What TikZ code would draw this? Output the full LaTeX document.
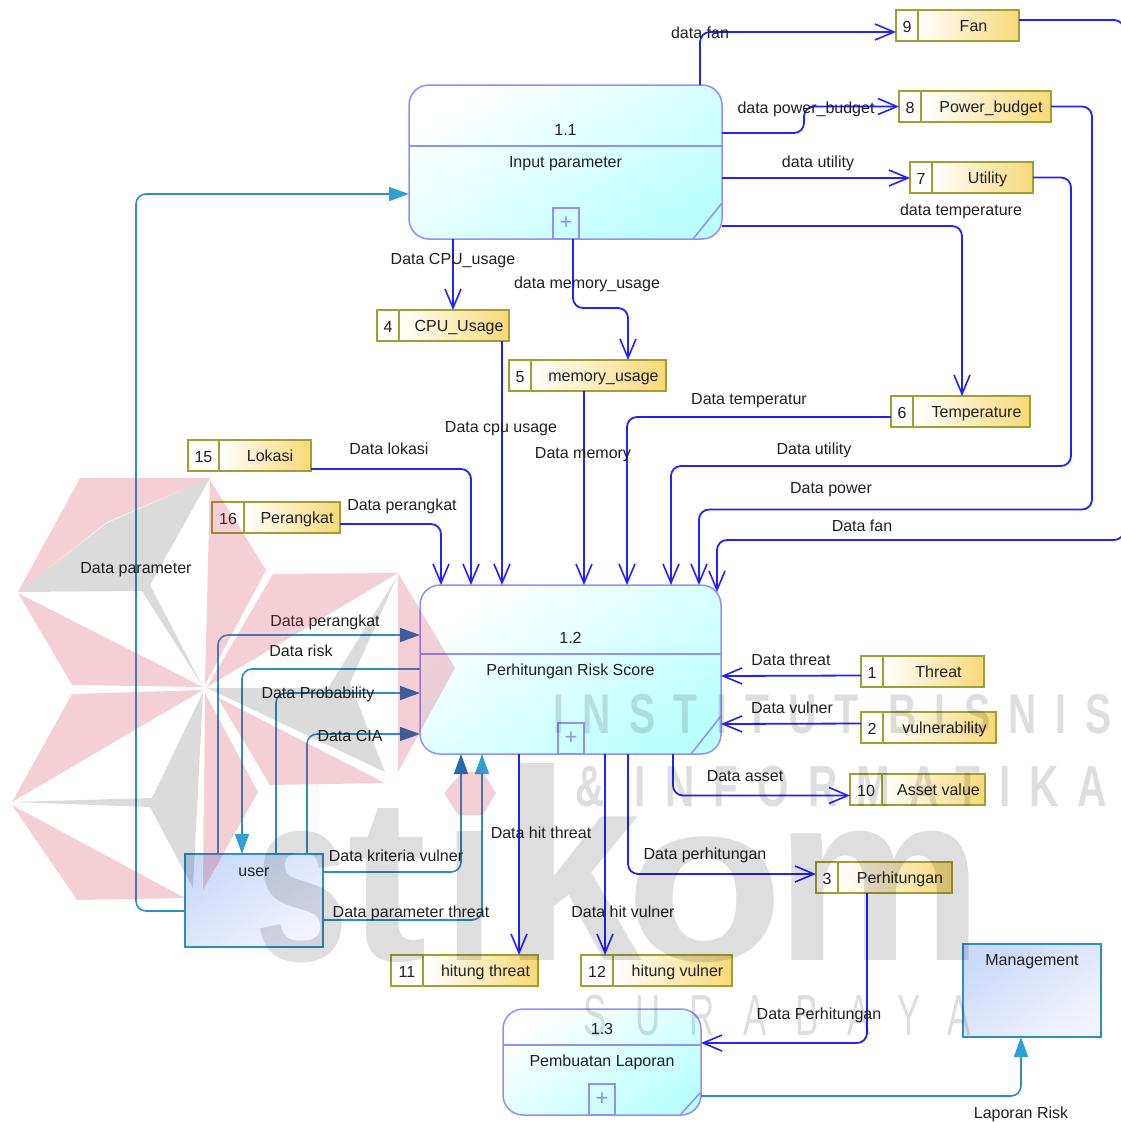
\documentclass[tikz,border=0pt]{standalone}
\usepackage{fontspec}
\setmainfont{Liberation Sans}
\newfontfamily\wmbold[FakeStretch=0.7,LetterSpace=33]{Liberation Sans Bold}
\newfontfamily\wmthin[FakeStretch=0.6,LetterSpace=50]{Liberation Sans}
\newfontfamily\wmlogo{Liberation Sans Bold}
\usetikzlibrary{arrows.meta}
\definecolor{flowblue}{HTML}{2222FF}
\definecolor{sysblue}{HTML}{2A8FC8}
\definecolor{tipdark}{HTML}{1F6FB0}
\definecolor{tiplight}{HTML}{2F9FD4}
\definecolor{procline}{HTML}{8F8FFF}
\definecolor{proccyan}{HTML}{BCFFFF}
\definecolor{storeline}{HTML}{A0A030}
\definecolor{storegold}{HTML}{F8D878}
\definecolor{exttop}{HTML}{CBDAF8}
\definecolor{extbottom}{HTML}{F3F3FF}
\definecolor{textdark}{HTML}{202020}

\begin{document}
\begin{tikzpicture}[
				x=1pt, y=-1pt,
				every node/.style={font=\fontsize{16}{16}\selectfont, text=textdark, inner sep=0pt, outer sep=0pt},
				flowtext/.style={text height=12.5pt, text depth=2.5pt},
				flow/.style={draw=flowblue, line width=1.8pt, rounded corners=10pt, -{Straight Barb[length=19pt,width=16pt,line width=1.6pt]}},
				sysflow/.style={draw=sysblue, line width=1.6pt, rounded corners=10pt, -{Triangle[length=20pt,width=14pt,color=#1,fill=#1]}},
				sysflow/.default=tipdark,
				process/.style={draw=procline, line width=1.5pt, rounded corners=20pt, anchor=north west, top color=white, bottom color=proccyan, shading angle=35},
				plusbox/.style={draw=procline, line width=1.2pt, anchor=south west, minimum width=26pt, minimum height=31pt, text=procline, font=\fontsize{22}{22}\selectfont},
				storenum/.style={draw=storeline, line width=1.5pt, anchor=north west, minimum height=31pt, fill=white, text height=13.5pt, text depth=0pt},
				storebox/.style={draw=storeline, line width=1.5pt, anchor=north west, minimum height=31pt, left color=white, right color=storegold, text height=12.5pt, text depth=0pt},
				external/.style={draw=sysblue, line width=1.5pt, anchor=north west, top color=exttop, bottom color=extbottom, shading angle=35},
				wmpink/.style={fill={rgb,255:red,200;green,16;blue,46}, fill opacity=0.2},
				wmgray/.style={fill=black, fill opacity=0.14},
				wmtext/.style={text=black, text opacity=0.13, anchor=base west}
				]
				
				\useasboundingbox (0,0) rectangle (1121,1122);
				
				\foreach \p/\xa/\ya/\w/\h/\yd/\xp/\dx/\dy/\id/\txt in {
					11/409/85/313/154/61/144/29/36/1.1/Input parameter,
					12/420/585/301/169/69/138/30/38/1.2/Perhitungan Risk Score,
					13/503/1009/198/106/36/86/21/23/1.3/Pembuatan Laporan}{
					\node[process, minimum width=\w pt, minimum height=\h pt] (proc\p) at (\xa,\ya) {};
					\draw[draw=procline, line width=1.5pt] ([yshift=-\yd pt]proc\p.north west) -- ([yshift=-\yd pt]proc\p.north east);
					\draw[draw=procline, line width=1.5pt] ([yshift=\dy pt]proc\p.south east) -- ([xshift=-\dx pt]proc\p.south east);
					\node[plusbox] (plus\p) at ([xshift=\xp pt]proc\p.south west) {+};
					\node[flowtext] (id\p) at ([yshift=16pt-\yd pt]proc\p.north) {\id};
					\node[flowtext] (name\p) at ([yshift=-16pt-\yd pt]proc\p.north) {\txt};
				}
				
				\foreach \n/\xa/\ya/\wa/\wb/\txt in {
					9/896/10/22/101/Fan,
					8/899/91/22/130/Power\_budget,
					7/910/162/22/101/Utility,
					4/377/310/22/110/CPU\_Usage,
					5/509/360/22/135/memory\_usage,
					6/891/396/22/117/Temperature,
					15/188/440/31/92/Lokasi,
					16/212/502/32/96/Perangkat,
					1/861/656/22/101/Threat,
					2/861/712/22/113/vulnerability,
					10/850/774/32/103/Asset value,
					3/816/862/22/114/Perhitungan,
					11/391/955/32/115/hitung threat,
					12/581/955/32/119/hitung vulner}{
					\node[storenum, minimum width=\wa pt] (num\n) at (\xa,\ya) {\n};
					\node[storebox, minimum width=\wb pt] (store\n) at (num\n.north east) {\hspace*{10pt}\txt};
				}
				
				\node[external, minimum width=138pt, minimum height=93pt] (user) at (185,854) {};
				\node[flowtext] (userlabel) at ([yshift=-17pt]user.north) {user};
				\node[external, minimum width=138pt, minimum height=93pt] (management) at (963,944) {};
				\node[flowtext] (managementlabel) at ([yshift=-16pt]management.north) {Management};
				
				\draw[flow] ([xshift=-22pt]proc11.north east) |- ([yshift=-6.5pt]num9.west);
				\draw[flow] ([yshift=-48pt]proc11.north east) -- ++(82,0) |- (num8.west);
				\draw[flow] ([yshift=-93pt]proc11.north east) -- ([yshift=-0.5pt]num7.west);
				\draw[flow] ([yshift=-141pt]proc11.north east) -| ([xshift=49pt]store6.north west);
				\draw[flow] ([xshift=44pt]proc11.south west) -- ([xshift=54pt]store4.north west);
				\draw[flow] ([xshift=164pt]proc11.south west) -- ++(0,69) -| ([xshift=97pt]store5.north west);
				\draw[flow] ([xshift=103pt]store4.south west) -- ([xshift=82pt]proc12.north west);
				\draw[flow] ([xshift=53pt]store5.south west) -- ([xshift=164pt]proc12.north west);
				\draw[flow] ([yshift=-5.5pt]num6.west) -| ([xshift=207pt]proc12.north west);
				\draw[flow] (store7.east) -- ++(38,0) -- ++(0,288.5) -| ([xshift=251pt]proc12.north west);
				\draw[flow] (store8.east) -- ++(41,0) -- ++(0,403) -| ([xshift=279pt]proc12.north west);
				\draw[flow] ([yshift=5.5pt]store9.east) -- ++(105,0) -- ++(0,520) -| ([xshift=297pt,yshift=-7pt]proc12.north west);
				\draw[flow] ([yshift=-13.5pt]store15.east) -| ([xshift=51pt]proc12.north west);
				\draw[flow] ([yshift=-6.5pt]store16.east) -| ([xshift=21pt]proc12.north west);
				\draw[flow] ([yshift=-4pt]num1.west) -- ([yshift=-91pt]proc12.north east);
				\draw[flow] ([yshift=4pt]num2.west) -- ([yshift=-139pt]proc12.north east);
				\draw[flow] ([xshift=253pt]proc12.south west) |- ([yshift=-6pt]num10.west);
				\draw[flow] ([xshift=208pt]proc12.south west) |- ([yshift=3.5pt]num3.west);
				\draw[flow] ([xshift=99pt]proc12.south west) -- ([xshift=96pt]store11.north west);
				\draw[flow] ([xshift=185pt]proc12.south west) -- ([xshift=24pt]num12.north west);
				\draw[flow] ([xshift=29pt]store3.south west) |- ([yshift=-34pt]proc13.north east);
				
				\draw[sysflow=tiplight] ([yshift=19pt]proc13.south east) -| ([xshift=58pt]management.south west);
				\draw[sysflow=tiplight] ([yshift=-10.5pt]user.west) -- ++(-49,0) |- ([yshift=-109pt]proc11.north west);
				\draw[sysflow] ([xshift=33pt]user.north west) |- ([yshift=-50pt]proc12.north west);
				\draw[sysflow=tiplight] ([yshift=-84pt]proc12.north west) -| ([xshift=57pt]user.north west);
				\draw[sysflow] ([xshift=91pt]user.north west) |- ([yshift=-108pt]proc12.north west);
				\draw[sysflow] ([xshift=122pt]user.north west) |- ([yshift=-149pt]proc12.north west);
				\draw[sysflow] ([yshift=-18pt]user.north east) -| ([xshift=41pt]proc12.south west);
				\draw[sysflow=tiplight] ([yshift=-66pt]user.north east) -| ([xshift=62pt]proc12.south west);
				
				\foreach \x/\y/\txt [count=\i] in {
					700/33/data fan,
					806/108/data power\_budget,
					818/162/data utility,
					961/210/data temperature,
					453/259/Data CPU\_usage,
					587/283/data memory\_usage,
					501/427/Data cpu usage,
					583/453/Data memory,
					749/399/Data temperatur,
					389/449/Data lokasi,
					402/505/Data perangkat,
					814/449/Data utility,
					831/488/Data power,
					862/526/Data fan,
					136/568/Data parameter,
					325/621/Data perangkat,
					301/651/Data risk,
					318/693/Data Probability,
					350/736/Data CIA,
					791/660/Data threat,
					792/708/Data vulner,
					745/776/Data asset,
					541/833/Data hit threat,
					623/912/Data hit vulner,
					705/854/Data perhitungan,
					396/856/Data kriteria vulner,
					411/912/Data parameter threat,
					819/1014/Data Perhitungan,
					1021/1113/Laporan Risk}{
					\node[flowtext] (flowlabel\i) at (\x,\y) {\txt};
				}
				
				\fill[wmpink] (80,478) -- (210,478) -- (107,522) -- (18,592) -- cycle;
				\fill[wmgray] (210,478) -- (107,523) -- (18,592) -- (142,591) -- (150,585) -- cycle;
				\fill[wmgray] (142,591) -- (150,585) -- (203,687) -- cycle;
				\fill[wmpink] (18,593) -- (72,685) -- (203,687) -- cycle;
				\fill[wmpink] (210,480) -- (266,570) -- (205,685) -- cycle;
				\fill[wmpink] (273,574) -- (398,573) -- (207,687) -- cycle;
				\fill[wmgray] (207,688) -- (328,688) -- (397,577) -- (350,683) -- (385,772) -- cycle;
				\fill[wmpink] (398,573) -- (455,668) -- (398,772) -- cycle;
				\fill[wmpink] (217,697) -- (270,785) -- (385,783) -- cycle;
				\fill[wmpink] (72,694) -- (203,690) -- (12,802) -- cycle;
				\fill[wmgray] (203,692) -- (152,798) -- (12,802) -- (150,807) -- (193,888) -- cycle;
				\fill[wmpink] (12,805) -- (77,900) -- (185,898) -- cycle;
				\fill[wmpink] (205,693) -- (258,792) -- (203,890) -- cycle;
				\fill[wmpink] (462,772) -- (483,772) -- (496,793) -- (483,815) -- (458,815) -- (444,793) -- cycle;
				\foreach \ch/\x/\xs/\ys [count=\i] in {
					s/254/1.7/2.4,
					t/347/2.4/2.33,
					ı/444/1.8/2.44,
					k/502/2.5/2.72,
					o/625/2.6/2.3,
					m/775/2.34/2.4}{
					\node[wmtext, font=\wmlogo\fontsize{100}{100}\selectfont] (wmlogo\i) at (\x,960) {\scalebox{\xs}[\ys]{\ch}};
				}
				\node[wmtext, font=\wmbold\fontsize{56}{56}\selectfont] (wmline1) at (553,733) {INSTITUT BISNIS};
				\node[wmtext, font=\wmbold\fontsize{58}{58}\selectfont] (wmline2) at (575,806) {\& INFORMATIKA};
				\node[wmtext, font=\wmthin\fontsize{58}{58}\selectfont] (wmline3) at (583,1035) {SURABAYA};
			\end{tikzpicture}
\end{document}
